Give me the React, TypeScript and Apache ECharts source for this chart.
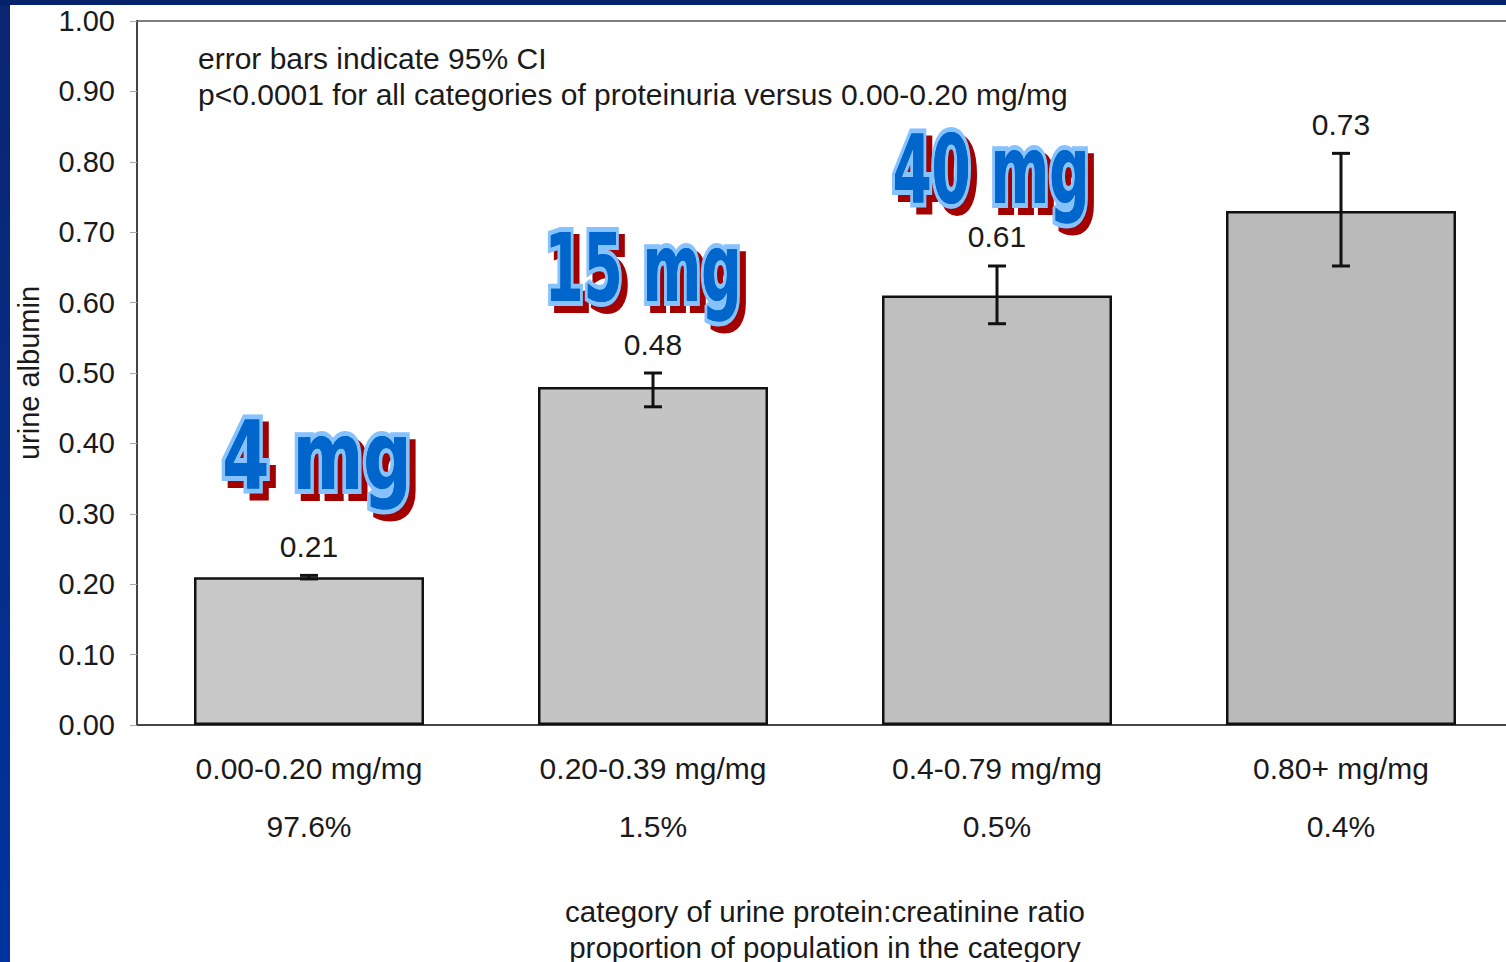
import React, { useEffect, useRef } from "react";
import * as echarts from "echarts";

// Urine protein:creatinine ratio categories and share of the population in each
const categories = ["0.00-0.20 mg/mg", "0.20-0.39 mg/mg", "0.4-0.79 mg/mg", "0.80+ mg/mg"];
const populationShare = ["97.6%", "1.5%", "0.5%", "0.4%"];

// Mean urine albumin per category, with 95% CI bounds
const meanAlbumin = [0.21, 0.48, 0.61, 0.73];
const ciLow = [0.2075, 0.452, 0.57, 0.652];
const ciHigh = [0.2125, 0.5, 0.652, 0.812];

// Call-out tags for the first three categories
const tagTexts = ["4 mg", "15 mg", "40 mg"];

const yMin = 0;
const yMax = 1;
const yStep = 0.1;

const noteLines = [
  "error bars indicate 95% CI",
  "p<0.0001 for all categories of proteinuria versus 0.00-0.20 mg/mg",
];
const xTitle = ["category of urine protein:creatinine ratio", "proportion of population in the category"];
const yTitle = "urine albumin";

// layout / style
const FONT = '"Liberation Sans", Arial, sans-serif';
const TAG_FONT = 'bold 94px "DejaVu Sans", sans-serif';
const TEXT = "#1a1a1a";
const barFills = ["#c8c8c8", "#c4c4c4", "#bfbfbf", "#bababa"];
const tagLevels = [0.381, 0.649, 0.788];
const tagShiftX = [8, -10, -6];
const tagScaleX = [0.72, 0.6, 0.6];

export default function App() {
  const ref = useRef<HTMLDivElement>(null);

  useEffect(() => {
    if (!ref.current) return;
    const chart = echarts.init(ref.current, undefined, { renderer: "svg" });

    const option: any = {
      animation: false,
      backgroundColor: "#ffffff",
      grid: {
        left: 137,
        top: 21,
        width: 1376,
        height: 704,
        outerBoundsMode: "none",
        containLabel: false,
        show: true,
        borderColor: "#555",
        borderWidth: 1.5,
        backgroundColor: "transparent",
      },
      graphic: [
        {
          type: "rect",
          shape: { x: 0, y: 0, width: 10, height: 962 },
          style: {
            fill: new echarts.graphic.LinearGradient(0, 0, 0, 1, [
              { offset: 0, color: "#0a2570" },
              { offset: 1, color: "#0033a0" },
            ]),
          },
          z: 100,
          silent: true,
        },
        {
          type: "rect",
          shape: { x: 0, y: 0, width: 1506, height: 5 },
          style: { fill: "#06226a" },
          z: 100,
          silent: true,
        },
        {
          type: "text",
          x: 198,
          y: 76,
          style: {
            text: noteLines.join("\n"),
            font: `30px ${FONT}`,
            fill: TEXT,
            lineHeight: 36,
            align: "left",
            verticalAlign: "middle",
          },
          z: 50,
          silent: true,
        },
      ],
      xAxis: {
        type: "category",
        data: categories,
        axisTick: { show: false },
        axisLine: { show: true, lineStyle: { color: "#444", width: 2 } },
        axisLabel: {
          interval: 0,
          margin: 14,
          fontSize: 30,
          fontFamily: FONT,
          color: TEXT,
          lineHeight: 58,
          formatter: (v: string, i: number) => `${v}\n${populationShare[i]}`,
        },
        name: xTitle.join("\n"),
        nameLocation: "middle",
        nameGap: 168,
        nameTextStyle: { fontSize: 29.5, fontFamily: FONT, color: TEXT, lineHeight: 36 },
      },
      yAxis: {
        type: "value",
        min: yMin,
        max: yMax,
        interval: yStep,
        splitLine: { show: false },
        axisLine: { show: true, lineStyle: { color: "#444", width: 2 } },
        axisTick: { show: true, length: 7, lineStyle: { color: "#aaa", width: 1 } },
        axisLabel: {
          margin: 22,
          fontSize: 29,
          fontFamily: FONT,
          color: TEXT,
          formatter: (v: number) => v.toFixed(2),
        },
        name: yTitle,
        nameLocation: "middle",
        nameGap: 94,
        nameRotate: 90,
        nameTextStyle: { fontSize: 29, fontFamily: FONT, color: TEXT },
      },
      series: [
        {
          type: "bar",
          data: meanAlbumin.map((v, i) => ({
            value: v,
            itemStyle: { color: barFills[i] },
          })),
          barWidth: 230,
          itemStyle: { borderColor: "#111", borderWidth: 2.5 },
          silent: true,
          z: 2,
        },
        {
          type: "custom",
          data: meanAlbumin.map((_, i) => [i, ciLow[i], ciHigh[i]]),
          z: 5,
          silent: true,
          renderItem: (params: any, api: any) => {
            const i = params.dataIndex;
            const lo = api.coord([api.value(0), api.value(1)]);
            const hi = api.coord([api.value(0), api.value(2)]);
            const x = lo[0];
            const half = 9;
            const stroke = { stroke: "#111", lineWidth: 3 };
            return {
              type: "group",
              children: [
                { type: "line", shape: { x1: x, y1: lo[1], x2: x, y2: hi[1] }, style: stroke },
                { type: "line", shape: { x1: x - half, y1: lo[1], x2: x + half, y2: lo[1] }, style: stroke },
                { type: "line", shape: { x1: x - half, y1: hi[1], x2: x + half, y2: hi[1] }, style: stroke },
                {
                  type: "text",
                  x,
                  y: hi[1] - 14,
                  style: {
                    text: meanAlbumin[i].toFixed(2),
                    font: `30px ${FONT}`,
                    fill: TEXT,
                    align: "center",
                    verticalAlign: "bottom",
                  },
                },
              ],
            };
          },
        },
        {
          type: "custom",
          data: tagTexts.map((_, i) => [i, tagLevels[i]]),
          z: 10,
          silent: true,
          renderItem: (params: any, api: any) => {
            const i = params.dataIndex;
            const p = api.coord([api.value(0), api.value(1)]);
            const cx = p[0] + tagShiftX[i];
            const cy = p[1];
            const sx = tagScaleX[i];
            const base = {
              text: tagTexts[i],
              font: TAG_FONT,
              align: "center",
              verticalAlign: "middle",
            };
            return {
              type: "group",
              children: [
                {
                  type: "text",
                  x: cx + 6,
                  y: cy + 7,
                  scaleX: sx,
                  style: { ...base, fill: "#a30000", stroke: "#a30000", lineWidth: 10 },
                },
                {
                  type: "text",
                  x: cx,
                  y: cy,
                  scaleX: sx,
                  style: { ...base, fill: "#0066cc", stroke: "#85c2ff", lineWidth: 10 },
                },
                {
                  type: "text",
                  x: cx,
                  y: cy,
                  scaleX: sx,
                  style: { ...base, fill: "#0066cc" },
                },
              ],
            };
          },
        },
      ],
    };

    chart.setOption(option);
    return () => chart.dispose();
  }, []);

  return (
    <div
      ref={ref}
      style={{ position: "fixed", left: 0, top: 0, width: 1506, height: 962, background: "#fff" }}
    />
  );
}
